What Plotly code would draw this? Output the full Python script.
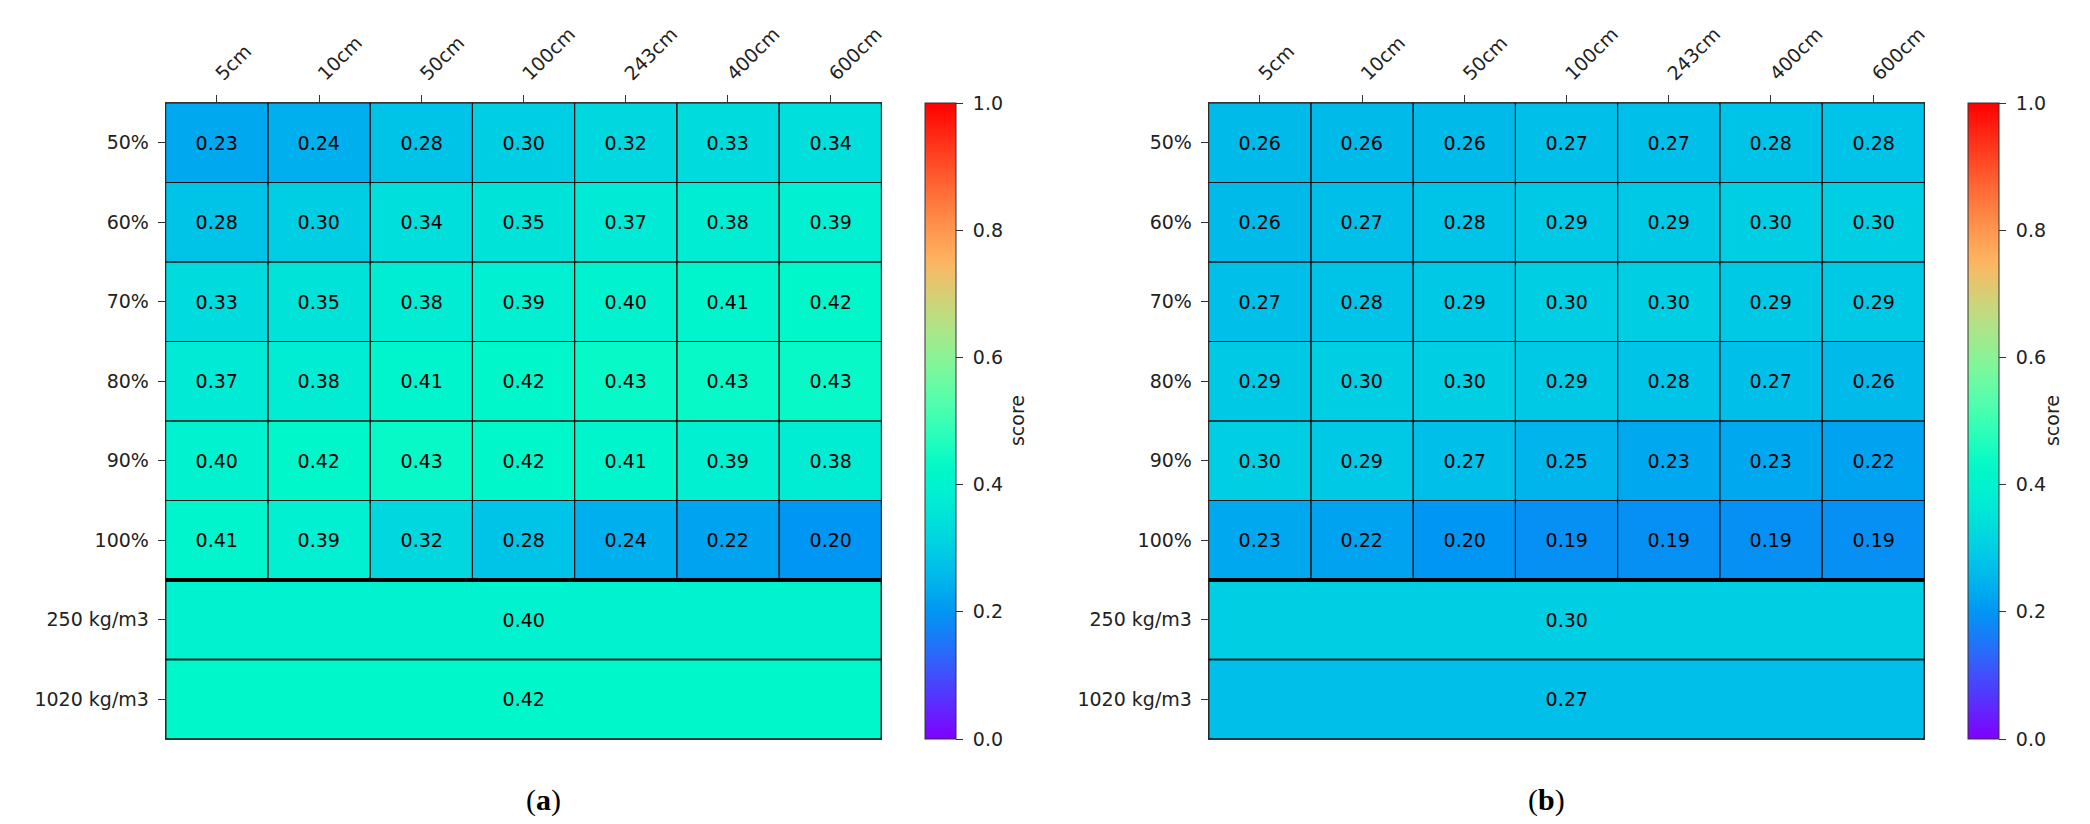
import math
import plotly.graph_objects as go

# ---------------- data ----------------
columns = ["5cm", "10cm", "50cm", "100cm", "243cm", "400cm", "600cm"]
porosity_rows = ["50%", "60%", "70%", "80%", "90%", "100%"]
density_rows = ["250 kg/m3", "1020 kg/m3"]

scores_a = [
    [0.23, 0.24, 0.28, 0.30, 0.32, 0.33, 0.34],
    [0.28, 0.30, 0.34, 0.35, 0.37, 0.38, 0.39],
    [0.33, 0.35, 0.38, 0.39, 0.40, 0.41, 0.42],
    [0.37, 0.38, 0.41, 0.42, 0.43, 0.43, 0.43],
    [0.40, 0.42, 0.43, 0.42, 0.41, 0.39, 0.38],
    [0.41, 0.39, 0.32, 0.28, 0.24, 0.22, 0.20],
]
density_a = [0.40, 0.42]

scores_b = [
    [0.26, 0.26, 0.26, 0.27, 0.27, 0.28, 0.28],
    [0.26, 0.27, 0.28, 0.29, 0.29, 0.30, 0.30],
    [0.27, 0.28, 0.29, 0.30, 0.30, 0.29, 0.29],
    [0.29, 0.30, 0.30, 0.29, 0.28, 0.27, 0.26],
    [0.30, 0.29, 0.27, 0.25, 0.23, 0.23, 0.22],
    [0.23, 0.22, 0.20, 0.19, 0.19, 0.19, 0.19],
]
density_b = [0.30, 0.27]

panel_labels = ["(<b>a</b>)", "(<b>b</b>)"]
colorbar_ticks = [0.0, 0.2, 0.4, 0.6, 0.8, 1.0]

# ---------------- style ----------------
W, H = 2090, 824
FONT = "DejaVu Sans"
FS = 19


def clip01(v):
    return min(1.0, max(0.0, v))


def rainbow_like(t):
    # rainbow-style map with a more saturated (lower red) mid range
    if t < 0.25:
        r = clip01(0.5 - 2.5 * t)
    else:
        r = clip01((2 * t - 0.85) / 0.65)
    g = clip01(math.sin(math.pi * t))
    b = clip01(math.cos(math.pi * t / 2))
    return "rgb(%d,%d,%d)" % (round(r * 255), round(g * 255), round(b * 255))


colorscale = [[i / 50, rainbow_like(i / 50)] for i in range(51)]

row_labels = porosity_rows + density_rows
ncol = len(columns)
nrow = len(row_labels)
mid_col = ncol // 2


def build(scores, density):
    z, txt = [], []
    for row in scores:
        z.append(list(row))
        txt.append(["%.2f" % v for v in row])
    for v in density:
        z.append([v] * ncol)
        txt.append(["%.2f" % v if c == mid_col else "" for c in range(ncol)])
    return z, txt


# pixel geometry (paper fractions)
x_domains = [(158 / W, 875 / W), (1203 / W, 1920 / W)]
y_domain = (1 - 731 / H, 1 - 95 / H)
cbar_x = [919 / W, 1964 / W]
score_x = [1011 / W, 2061 / W]

fig = go.Figure()
shapes = []
annotations = []

for p, (scores, density) in enumerate([(scores_a, density_a), (scores_b, density_b)]):
    z, txt = build(scores, density)
    xa = "x" if p == 0 else "x2"
    ya = "y" if p == 0 else "y2"
    fig.add_trace(go.Heatmap(
        z=z, x=list(range(ncol)), y=list(range(nrow)),
        text=txt, texttemplate="%{text}",
        textfont=dict(family=FONT, size=FS, color="black"),
        colorscale=colorscale, zmin=0, zmax=1,
        xaxis=xa, yaxis=ya, hoverinfo="skip",
        colorbar=dict(
            x=cbar_x[p], xanchor="left", xpad=0, ypad=0,
            y=y_domain[0], yanchor="bottom", len=y_domain[1] - y_domain[0],
            lenmode="fraction", thickness=31, thicknessmode="pixels",
            outlinecolor="#333", outlinewidth=1,
            tickvals=colorbar_ticks, ticktext=["\u00a0%.1f" % t for t in colorbar_ticks],
            ticks="outside", ticklen=7, tickcolor="#333",
            tickfont=dict(family=FONT, size=FS, color="#222"),
        ),
    ))
    # cell borders
    for r in range(len(scores)):
        for c in range(ncol):
            shapes.append(dict(type="rect", xref=xa, yref=ya,
                               x0=c - 0.5, x1=c + 0.5, y0=r - 0.5, y1=r + 0.5,
                               line=dict(color="#111", width=1)))
    for k in range(len(density)):
        r = len(scores) + k
        shapes.append(dict(type="rect", xref=xa, yref=ya,
                           x0=-0.5, x1=ncol - 0.5, y0=r - 0.5, y1=r + 0.5,
                           line=dict(color="#111", width=1.5)))
    sep = len(scores) - 0.5
    shapes.append(dict(type="line", xref=xa, yref=ya,
                       x0=-0.5, x1=ncol - 0.5, y0=sep, y1=sep,
                       line=dict(color="black", width=4)))
    annotations.append(dict(text="score", textangle=-90, xref="paper", yref="paper",
                            x=score_x[p], y=(y_domain[0] + y_domain[1]) / 2,
                            showarrow=False, font=dict(family=FONT, size=FS, color="#222")))
    annotations.append(dict(text=panel_labels[p], xref="paper", yref="paper",
                            x=(x_domains[p][0] + x_domains[p][1]) / 2, y=1 - 811 / H,
                            showarrow=False,
                            font=dict(family="Liberation Serif", size=30, color="black")))

axis_common = dict(showline=True, mirror=True, linecolor="#333", linewidth=1,
                   ticks="outside", ticklen=7, tickcolor="#333", tickwidth=1,
                   showgrid=False, zeroline=False, fixedrange=True,
                   tickfont=dict(family=FONT, size=FS, color="#222"))

layout = dict(
    width=W, height=H, margin=dict(l=0, r=0, t=0, b=0),
    paper_bgcolor="white", plot_bgcolor="white",
    shapes=shapes, annotations=annotations, showlegend=False,
)
for p in range(2):
    sx = "" if p == 0 else "2"
    layout["xaxis" + sx] = dict(axis_common, domain=list(x_domains[p]), anchor="y" + sx,
                                side="top", range=[-0.5, ncol - 0.5],
                                tickvals=list(range(ncol)), ticktext=columns, tickangle=-45,
                                ticklabelstandoff=3)
    layout["yaxis" + sx] = dict(axis_common, domain=list(y_domain), anchor="x" + sx,
                                range=[nrow - 0.5, -0.5],
                                tickvals=list(range(nrow)), ticktext=row_labels,
                                ticklabelstandoff=5)

fig.update_layout(**layout)
fig.write_html("out.html")
